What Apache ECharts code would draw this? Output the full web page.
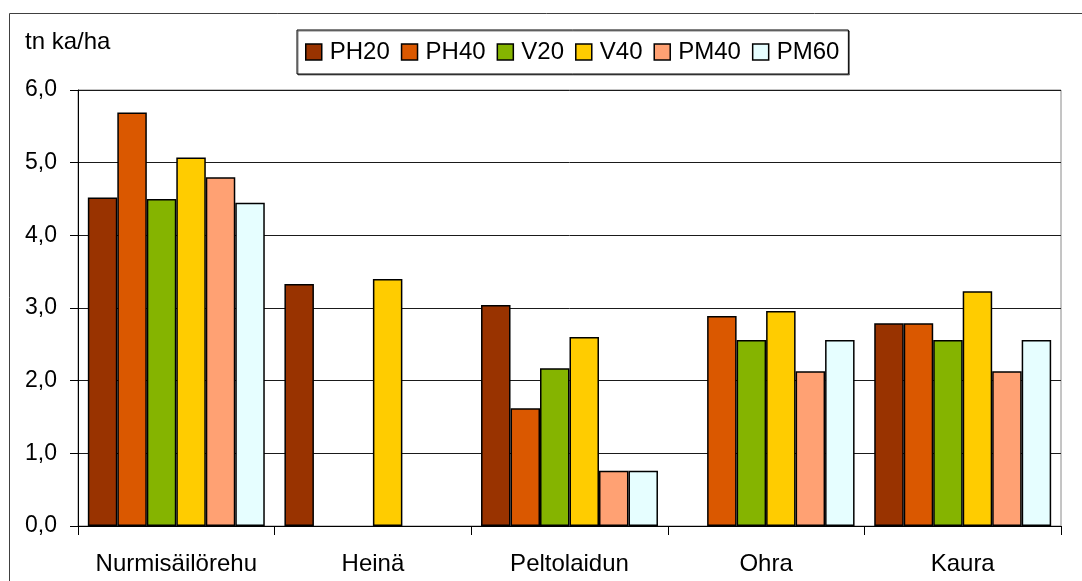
<!DOCTYPE html>
<html>
<head>
<meta charset="utf-8">
<script src="https://cdn.jsdelivr.net/npm/echarts@6/dist/echarts.min.js"></script>
<style>
html,body{margin:0;padding:0;background:#fff;}
#chart{width:1082px;height:581px;}
</style>
</head>
<body>
<div id="chart"></div>
<script>
const categories = ['Nurmisäilörehu', 'Heinä', 'Peltolaidun', 'Ohra', 'Kaura'];
const seriesNames = ['PH20', 'PH40', 'V20', 'V40', 'PM40', 'PM60'];
const PH20 = [4.52, 3.33, 3.04, null, 2.79];
const PH40 = [5.69, null, 1.62, 2.89, 2.79];
const V20  = [4.50, null, 2.17, 2.56, 2.56];
const V40  = [5.07, 3.40, 2.60, 2.96, 3.23];
const PM40 = [4.80, null, 0.76, 2.13, 2.13];
const PM60 = [4.45, null, 0.76, 2.56, 2.56];
const yTicks = [0, 1, 2, 3, 4, 5, 6];
const unitLabel = 'tn ka/ha';

const colors = ['#993300', '#DA5800', '#85B400', '#FFCC00', '#FFA173', '#E6FEFF'];
const values = [PH20, PH40, V20, V40, PM40, PM60];
const font = 'Liberation Sans, Arial, sans-serif';

const chart = echarts.init(document.getElementById('chart'), null, {renderer: 'canvas'});
chart.setOption({
  animation: false,
  backgroundColor: '#fff',
  graphic: [
    {type: 'rect', shape: {x: 9.5, y: 13.5, width: 1100, height: 600}, style: {fill: 'none', stroke: '#404040', lineWidth: 1}, z: -1},
    {type: 'text', left: 25, top: 30, style: {text: unitLabel, font: '24px ' + font, fill: '#000'}}
  ],
  legend: {
    left: 297, top: 30,
    padding: [10, 9, 10, 8],
    itemWidth: 16, itemHeight: 16, itemGap: 11,
    borderColor: '#000', borderWidth: 1,
    shadowColor: 'rgba(0,0,0,0.5)', shadowOffsetX: 1, shadowOffsetY: 1,
    backgroundColor: '#fff',
    icon: 'rect',
    itemStyle: {borderColor: '#000', borderWidth: 1.5},
    textStyle: {fontFamily: font, fontSize: 24, color: '#000', padding: [0, 0, 0, 3]},
    data: seriesNames
  },
  grid: {
    left: 78, right: 21, top: 90, bottom: 55,
    show: true, borderColor: '#8a8a8a', borderWidth: 1, backgroundColor: 'transparent'
  },
  xAxis: {
    type: 'category',
    data: categories,
    axisLine: {lineStyle: {color: '#000', width: 1}},
    axisTick: {show: true, length: 9, inside: false, interval: 0, lineStyle: {color: '#000'}},
    axisLabel: {fontFamily: font, fontSize: 24, color: '#000', margin: 26, interval: 0}
  },
  yAxis: {
    type: 'value',
    min: yTicks[0], max: yTicks[yTicks.length - 1], interval: 1,
    axisLine: {show: true, lineStyle: {color: '#000', width: 1}},
    axisTick: {show: true, length: 8, lineStyle: {color: '#000'}},
    axisLabel: {fontFamily: font, fontSize: 23, color: '#000', margin: 21,
      formatter: v => v.toFixed(1).replace('.', ',')},
    splitLine: {show: true, lineStyle: {color: '#1a1a1a', width: 1}}
  },
  series: seriesNames.map((n, i) => ({
    name: n,
    type: 'bar',
    data: values[i],
    barGap: '0%',
    barCategoryGap: '10%',
    itemStyle: {color: colors[i], borderColor: '#000', borderWidth: 1.5}
  }))
});
</script>
</body>
</html>
